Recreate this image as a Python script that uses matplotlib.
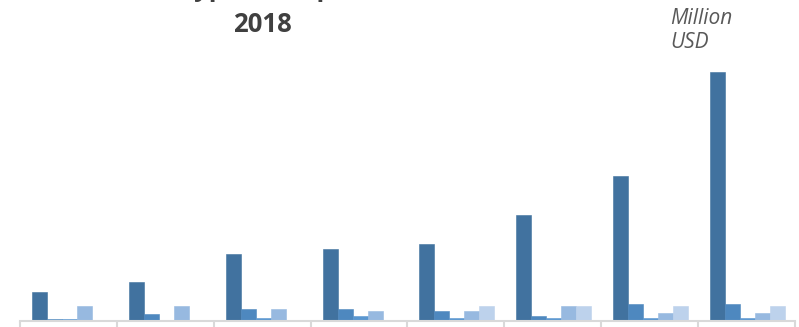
import matplotlib
matplotlib.use("Agg")
import matplotlib.pyplot as plt
import numpy as np
from matplotlib.ticker import FixedLocator

plt.rcParams['font.family'] = ['Open Sans', 'DejaVu Sans']

categories = ["2011", "2012", "2013", "2014", "2015", "2016", "2017", "2018"]
series_names = ["Type A", "Type B", "Type C", "Type D", "Type E"]
s1 = [29, 39, 67, 72, 77, 106, 144, 248]
s2 = [1.5, 7, 12, 12, 10, 5, 17, 17]
s3 = [1.5, 0, 2.5, 4.5, 2.5, 2.5, 2.5, 2.5]
s4 = [15, 15, 12, 9.5, 10, 14.5, 7.5, 7.5]
s5 = [0, 0, 0, 0, 14.5, 14.5, 15, 15]
series = [s1, s2, s3, s4, s5]
colors = ["#41729f", "#4e88bf", "#5a97d0", "#97b9e0", "#bdd2ec"]

title_text = "Investment Type and Spend Outlook,\n2018"
unit_text = "Million\nUSD"

W, H = 799, 327
fig = plt.figure(figsize=(W / 100, H / 100), dpi=100)
ax = fig.add_axes([20 / W, (H - 321) / H, (795 - 20) / W, (321 - 60) / H])

x = np.arange(len(categories))
bw = 15 / 97
for j, (vals, c, name) in enumerate(zip(series, colors, series_names)):
    ax.bar(x + (j - 2) * bw + 0.01, vals, width=bw, color=c, edgecolor=c,
           linewidth=0.4, label=name)

ax.set_xlim(-0.5, len(categories) - 0.5)
ax.set_ylim(0, 260)
for sp in ["top", "right", "left"]:
    ax.spines[sp].set_visible(False)
ax.spines["bottom"].set_color("#d9d9d9")
ax.spines["bottom"].set_linewidth(1.5)
ax.set_yticks([])
ax.set_xticks(x)
ax.set_xticklabels(categories)
ax.xaxis.set_minor_locator(FixedLocator(np.arange(-0.5, len(categories), 1.0)))
ax.tick_params(axis="x", which="major", length=0, labelbottom=False)
ax.tick_params(axis="x", which="minor", length=7, width=1.5, color="#d9d9d9")

fig.text(262 / W, 1 - 32 / H, title_text, ha="center", va="baseline",
         fontsize=18.5, fontweight="bold", color="#404040", linespacing=1.43,
         multialignment="center")
fig.text(670 / W, 1 - 48 / H, unit_text, ha="left", va="baseline",
         fontsize=15, style="italic", color="#595959", linespacing=1.2)

fig.savefig("out.png", dpi=100)
